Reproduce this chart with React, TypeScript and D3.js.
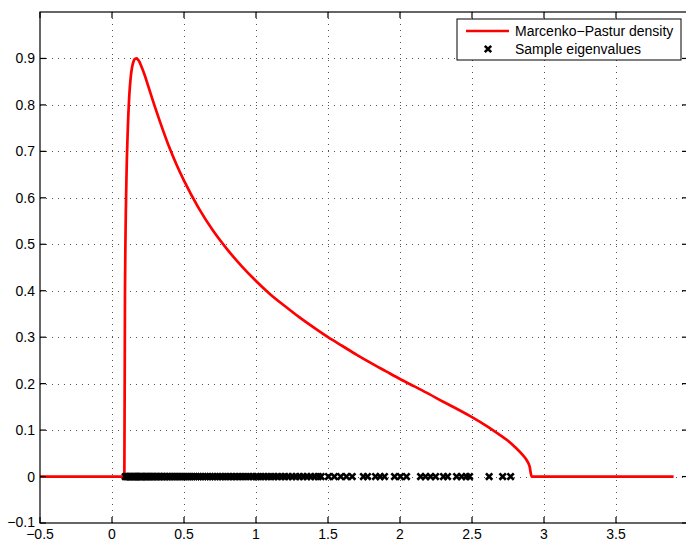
import React, { useRef, useEffect } from 'react';
import * as d3 from 'd3';

// Marcenko-Pastur density curve (x, density)
const curveX = [-0.5, 0.0, 0.0858, 0.09, 0.1, 0.11, 0.12, 0.13, 0.14, 0.15, 0.16, 0.17, 0.18, 0.19, 0.2, 0.225, 0.25, 0.3, 0.35, 0.4, 0.45, 0.5, 0.6, 0.7, 0.8, 0.9, 1.0, 1.1, 1.2, 1.3, 1.4, 1.5, 1.6, 1.7, 1.8, 1.9, 2.0, 2.1, 2.2, 2.3, 2.4, 2.5, 2.6, 2.7, 2.75, 2.8, 2.85, 2.88, 2.9, 2.914, 3.0, 3.5, 3.9];
const curveY = [0, 0, 0, 0.385, 0.636, 0.75, 0.82, 0.86, 0.882, 0.894, 0.899, 0.9, 0.8975, 0.893, 0.886, 0.866, 0.842, 0.794, 0.749, 0.707, 0.67, 0.637, 0.579, 0.53, 0.489, 0.453, 0.421, 0.392, 0.367, 0.343, 0.321, 0.3, 0.281, 0.262, 0.244, 0.227, 0.21, 0.194, 0.178, 0.161, 0.145, 0.128, 0.109, 0.088, 0.077, 0.063, 0.047, 0.035, 0.022, 0, 0, 0, 0];

// sample eigenvalues, all drawn on the zero line
const eigenvalues = [
  0.092, 0.101, 0.108, 0.117, 0.124, 0.131, 0.139, 0.146, 0.154, 0.161, 0.169, 0.177, 0.184,
  0.193, 0.201, 0.209, 0.218, 0.226, 0.235, 0.243, 0.252, 0.261, 0.27, 0.279, 0.289, 0.298,
  0.308, 0.318, 0.328, 0.338, 0.348, 0.359, 0.37, 0.381, 0.392, 0.403, 0.415, 0.427, 0.439,
  0.451, 0.463, 0.476, 0.489, 0.502, 0.515, 0.529, 0.543, 0.557, 0.571, 0.586, 0.601, 0.616,
  0.632, 0.648, 0.664, 0.681, 0.698, 0.715, 0.733, 0.751, 0.769, 0.788, 0.807, 0.827, 0.847,
  0.867, 0.888, 0.909, 0.931, 0.953, 0.976, 0.999, 1.014, 1.035, 1.058, 1.081, 1.104, 1.127,
  1.151, 1.176, 1.2, 1.225, 1.251, 1.277, 1.302, 1.328, 1.354, 1.381, 1.407, 1.432, 1.452,
  1.503, 1.544, 1.588, 1.628, 1.668, 1.746, 1.774, 1.83, 1.862, 1.892, 1.962, 2.003, 2.045,
  2.143, 2.177, 2.212, 2.247, 2.302, 2.33, 2.393, 2.428, 2.46, 2.483, 2.619, 2.713, 2.768,
];

const xTicks = [-0.5, 0, 0.5, 1, 1.5, 2, 2.5, 3, 3.5];
const yTicks = [-0.1, 0, 0.1, 0.2, 0.3, 0.4, 0.5, 0.6, 0.7, 0.8, 0.9];
const legendLabels = ['Marcenko\u2212Pastur density', 'Sample eigenvalues'];

const fmt = (v: number) => (v < 0 ? '\u2212' + String(-v) : String(v));

const App = () => {
  const svgRef = useRef<SVGSVGElement>(null);
  const width = 686;
  const height = 541;
  const left = 40, right = 688, top = 12, bottom = 523;
  const font = '"Liberation Sans", Arial, Helvetica, sans-serif';

  useEffect(() => {
    const svg = d3.select(svgRef.current);
    svg.selectAll('*').remove();

    const x = d3.scaleLinear().domain([-0.5, 4]).range([left, right]);
    const y = d3.scaleLinear().domain([-0.1, 1.0]).range([bottom, top]);

    // dotted grid
    const grid = svg.append('g').attr('stroke', '#555').attr('stroke-width', 1).attr('stroke-dasharray', '1,5');
    grid.selectAll('.gx').data(xTicks.slice(1)).join('line')
      .attr('x1', (d) => Math.round(x(d)) + 0.5).attr('x2', (d) => Math.round(x(d)) + 0.5)
      .attr('y1', top).attr('y2', bottom);
    grid.selectAll('.gy').data(yTicks.slice(1)).join('line')
      .attr('y1', (d) => Math.round(y(d)) + 0.5).attr('y2', (d) => Math.round(y(d)) + 0.5)
      .attr('x1', left).attr('x2', right);

    // density curve
    const pts = curveX.map((v, i) => [v, curveY[i]] as [number, number]);
    const line = d3.line<[number, number]>()
      .x((d) => x(d[0]))
      .y((d) => y(d[1]))
      .curve(d3.curveMonotoneX);
    svg.append('path')
      .datum(pts)
      .attr('d', line)
      .attr('fill', 'none')
      .attr('stroke', '#ff0000')
      .attr('stroke-width', 2.7)
      .attr('stroke-linejoin', 'round');

    // eigenvalue markers (bold x)
    const s = 3.2;
    const drawX = (g: any, cx: number, cy: number) => {
      g.append('path')
        .attr('d', `M${cx - s},${cy - s}L${cx + s},${cy + s}M${cx - s},${cy + s}L${cx + s},${cy - s}`)
        .attr('stroke', '#000')
        .attr('stroke-width', 2.6)
        .attr('fill', 'none');
    };
    const marks = svg.append('g');
    eigenvalues.forEach((v) => drawX(marks, x(v), y(0)));

    // axes box with inward ticks
    const axes = svg.append('g').attr('stroke', '#000').attr('stroke-width', 1.2);
    axes.append('rect')
      .attr('x', left).attr('y', top)
      .attr('width', right - left).attr('height', bottom - top)
      .attr('fill', 'none');
    const tl = 6;
    xTicks.forEach((t) => {
      const px = x(t);
      axes.append('line').attr('x1', px).attr('x2', px).attr('y1', bottom).attr('y2', bottom - tl);
      axes.append('line').attr('x1', px).attr('x2', px).attr('y1', top).attr('y2', top + tl);
    });
    yTicks.forEach((t) => {
      const py = y(t);
      axes.append('line').attr('x1', left).attr('x2', left + tl).attr('y1', py).attr('y2', py);
      axes.append('line').attr('x1', right).attr('x2', right - tl).attr('y1', py).attr('y2', py);
    });

    // tick labels
    svg.append('g').selectAll('text').data(xTicks).join('text')
      .attr('x', (d) => x(d))
      .attr('y', 539)
      .attr('text-anchor', 'middle')
      .attr('font-family', font)
      .attr('font-size', 14)
      .text((d) => fmt(d));
    svg.append('g').selectAll('text').data(yTicks).join('text')
      .attr('x', 35)
      .attr('y', (d) => y(d))
      .attr('dy', (d) => (d < 0 ? '0.25em' : '0.36em'))
      .attr('text-anchor', 'end')
      .attr('font-family', font)
      .attr('font-size', 14)
      .text((d) => fmt(Math.round(d * 10) / 10));

    // legend
    const lg = svg.append('g');
    lg.append('rect')
      .attr('x', 457).attr('y', 19).attr('width', 224).attr('height', 41)
      .attr('fill', '#fff').attr('stroke', '#000').attr('stroke-width', 1);
    lg.append('line')
      .attr('x1', 466).attr('x2', 509).attr('y1', 31).attr('y2', 31)
      .attr('stroke', '#ff0000').attr('stroke-width', 2.7);
    drawX(lg, 488, 49);
    lg.selectAll('text').data(legendLabels).join('text')
      .attr('x', 515)
      .attr('y', (d, i) => 36 + i * 18)
      .attr('font-family', font)
      .attr('font-size', 14)
      .text((d) => d);
  }, []);

  return (
    <div>
      <svg
        ref={svgRef}
        width={width}
        height={height}
        style={{ position: 'absolute', left: 0, top: 0, background: '#fff' }}
      ></svg>
    </div>
  );
};

export default App;
